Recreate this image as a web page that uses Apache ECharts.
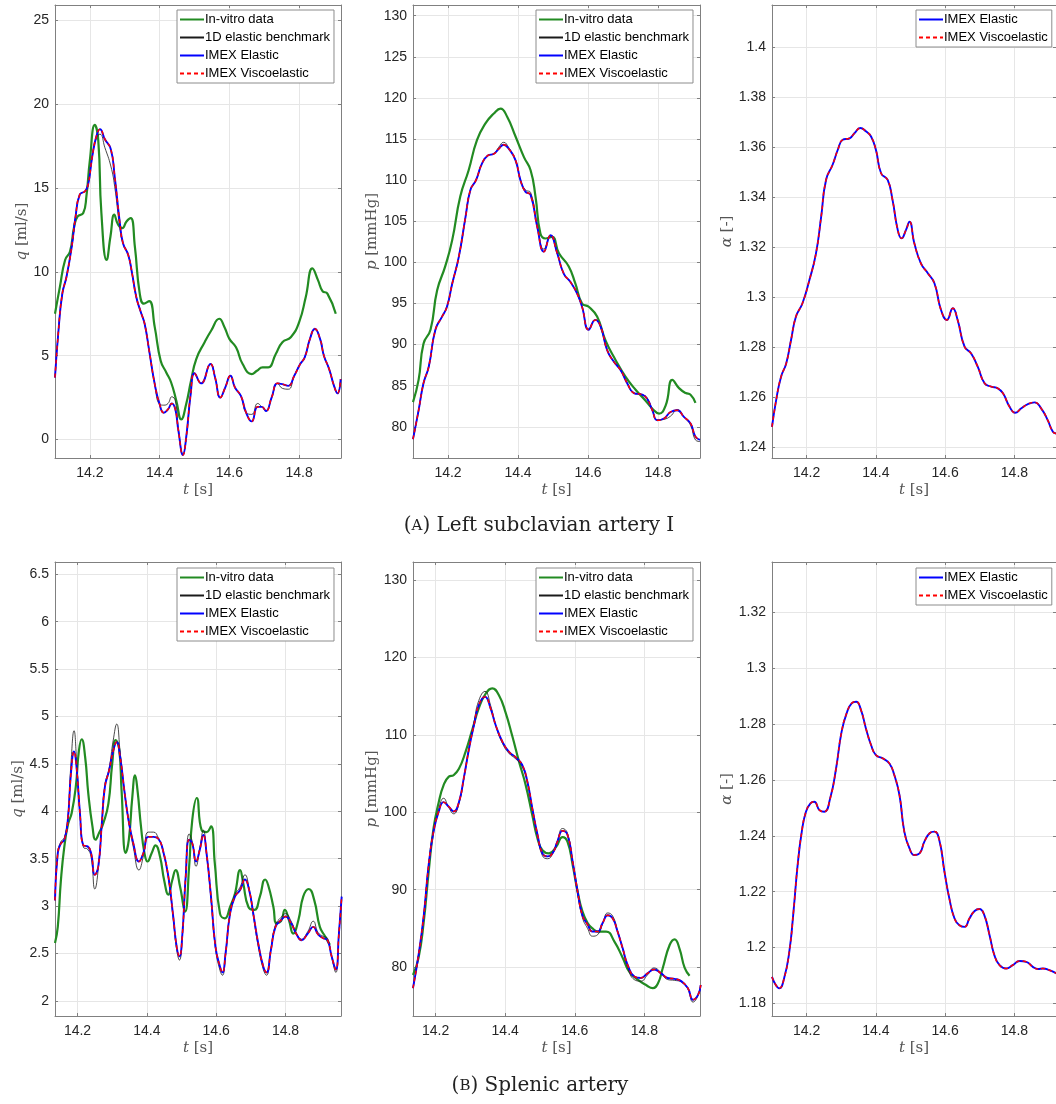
<!DOCTYPE html>
<html>
<head>
<meta charset="utf-8">
<script src="https://cdn.jsdelivr.net/npm/echarts@6/dist/echarts.min.js"></script>
<style>
html, body { margin: 0; padding: 0; background: #fff; }
#chart { width: 1056px; height: 1104px; }
</style>
</head>
<body>
<div id="chart"></div>
<script>
// (A) Left subclavian artery I
var tA1Model = [14.100,14.110,14.121,14.133,14.148,14.159,14.171,14.186,14.195,14.207,14.219,14.229,14.243,14.260,14.271,14.286,14.295,14.310,14.321,14.333,14.346,14.357,14.370,14.386,14.400,14.412,14.424,14.435,14.445,14.454,14.467,14.476,14.489,14.500,14.519,14.546,14.559,14.574,14.588,14.603,14.616,14.633,14.648,14.664,14.681,14.693,14.705,14.721,14.738,14.752,14.769,14.786,14.803,14.816,14.831,14.845,14.860,14.871,14.886,14.900,14.910,14.919];
var qA1Model = [3.7,6.5,8.7,9.7,11.5,13.3,14.6,14.8,15.2,16.9,18.1,18.5,17.9,17.3,15.7,12.9,11.7,11.0,9.9,8.5,7.6,6.9,5.3,3.3,2.1,1.6,1.8,2.15,1.8,0.5,-0.92,0.1,2.7,3.95,3.35,4.5,3.7,2.5,3.1,3.8,3.1,2.6,1.6,1.08,1.95,1.95,1.7,2.5,3.35,3.3,3.2,3.8,4.5,4.9,6.0,6.6,6.0,5.0,4.2,3.2,2.75,3.6];
var qA1Bench = [3.7,6.5,8.7,9.7,11.5,13.3,14.6,14.8,15.2,16.9,18.0,18.2,17.4,16.3,15.1,12.6,11.7,11.0,9.9,8.5,7.6,6.9,5.3,3.3,2.1,2.05,2.15,2.55,2.3,0.6,-0.85,0.1,2.7,3.95,3.35,4.5,3.7,2.5,3.1,3.8,3.1,2.6,1.6,1.5,2.15,1.95,1.7,2.5,3.35,3.05,3.0,3.8,4.5,4.9,6.0,6.55,6.0,5.0,4.2,3.2,2.75,3.6];
var tA1Vitro = [14.100,14.114,14.129,14.143,14.155,14.165,14.181,14.190,14.200,14.214,14.224,14.233,14.248,14.259,14.270,14.281,14.293,14.305,14.317,14.329,14.343,14.355,14.370,14.386,14.403,14.419,14.433,14.448,14.462,14.476,14.490,14.505,14.529,14.548,14.571,14.586,14.600,14.619,14.638,14.664,14.679,14.695,14.711,14.733,14.752,14.776,14.800,14.819,14.838,14.854,14.867,14.881,14.905];
var qA1Vitro = [7.5,9.1,10.7,11.2,12.7,13.3,13.5,14.5,16.65,18.75,17.85,13.5,10.7,12.1,13.4,12.8,12.6,13.0,13.2,11.5,8.7,8.1,8.25,6.7,4.7,4.0,3.4,2.3,1.2,2.1,3.5,4.8,5.8,6.5,7.2,6.7,6.0,5.5,4.5,3.9,4.1,4.3,4.3,5.1,5.8,6.1,7.0,8.5,10.2,9.5,8.85,8.7,7.5];

var tA2Model = [14.100,14.116,14.130,14.145,14.164,14.183,14.197,14.212,14.231,14.250,14.264,14.280,14.297,14.314,14.331,14.345,14.359,14.374,14.393,14.407,14.421,14.436,14.455,14.474,14.493,14.512,14.531,14.550,14.569,14.583,14.602,14.621,14.636,14.655,14.674,14.693,14.712,14.731,14.755,14.769,14.784,14.798,14.817,14.836,14.855,14.874,14.893,14.907,14.920];
var pA2Model = [78.5,82.0,85.3,87.3,91.8,93.4,94.6,97.4,100.7,105.5,108.8,110.0,112.0,113.0,113.2,113.8,114.3,113.8,112.4,110.0,108.6,108.2,104.3,101.3,103.3,101.1,98.6,97.6,96.2,94.6,91.8,93.0,92.2,89.3,87.9,86.9,85.3,84.1,83.9,83.4,82.0,80.8,81.0,81.8,82.0,81.2,80.4,78.8,78.4];
var pA2Bench = [78.5,82.0,85.3,87.3,91.8,93.4,94.6,97.4,100.7,105.5,108.8,110.0,112.0,113.0,113.2,114.0,114.6,113.9,112.4,110.0,108.8,108.5,104.5,101.6,103.2,101.1,98.6,97.6,96.2,94.6,91.9,93.0,92.2,89.3,87.9,86.9,85.3,84.1,83.9,83.5,82.0,80.8,80.9,81.3,82.1,81.2,80.2,78.4,78.2];
var tA2Vitro = [14.100,14.116,14.130,14.150,14.169,14.192,14.212,14.235,14.259,14.283,14.307,14.331,14.350,14.369,14.393,14.417,14.436,14.450,14.464,14.478,14.497,14.517,14.545,14.564,14.583,14.602,14.626,14.650,14.679,14.707,14.736,14.764,14.784,14.803,14.822,14.841,14.860,14.879,14.893,14.907];
var pA2Vitro = [83.0,85.7,90.1,91.8,96.6,99.5,102.7,108.0,111.2,114.9,116.9,118.1,118.7,117.7,115.3,112.8,111.2,108.0,103.5,102.9,103.1,101.1,99.5,97.4,95.0,94.6,93.4,90.5,88.1,86.1,84.5,83.2,82.2,81.6,82.6,85.7,84.7,84.1,83.9,82.9];

var tA3 = [14.100,14.112,14.126,14.141,14.155,14.169,14.188,14.208,14.227,14.242,14.256,14.275,14.290,14.304,14.324,14.338,14.355,14.372,14.386,14.400,14.415,14.434,14.448,14.463,14.474,14.487,14.497,14.511,14.530,14.550,14.569,14.588,14.605,14.622,14.636,14.656,14.675,14.694,14.714,14.733,14.752,14.767,14.786,14.802,14.820,14.839,14.858,14.877,14.896,14.911,14.921];
var aA3 = [1.248,1.2587,1.268,1.2734,1.2828,1.2921,1.2975,1.3068,1.3175,1.3322,1.3469,1.353,1.359,1.363,1.3636,1.3656,1.3677,1.3663,1.3643,1.359,1.3496,1.3469,1.3389,1.3269,1.3235,1.3269,1.3302,1.3215,1.3135,1.3095,1.3055,1.2948,1.2908,1.2955,1.2908,1.2801,1.2774,1.2721,1.2654,1.2641,1.2634,1.2614,1.256,1.2536,1.2554,1.2571,1.2578,1.2554,1.2507,1.246,1.2453];

// (B) Splenic artery
var tB1Model = [14.135,14.143,14.152,14.162,14.172,14.181,14.190,14.197,14.207,14.217,14.229,14.239,14.250,14.260,14.270,14.279,14.291,14.303,14.313,14.323,14.335,14.347,14.361,14.377,14.390,14.404,14.419,14.433,14.445,14.462,14.476,14.486,14.494,14.502,14.512,14.522,14.531,14.542,14.553,14.563,14.572,14.585,14.598,14.611,14.618,14.627,14.640,14.654,14.669,14.683,14.695,14.707,14.721,14.736,14.745,14.758,14.771,14.787,14.800,14.816,14.832,14.846,14.864,14.880,14.894,14.909,14.921,14.933,14.945,14.954,14.962];
var qB1Model = [3.06,3.56,3.66,3.70,3.91,4.40,4.63,4.47,3.98,3.64,3.63,3.56,3.33,3.42,3.87,4.26,4.43,4.64,4.73,4.57,4.22,3.91,3.66,3.47,3.56,3.73,3.73,3.71,3.61,3.31,2.89,2.57,2.47,2.68,3.31,3.70,3.66,3.47,3.60,3.75,3.56,3.10,2.57,2.36,2.30,2.50,2.92,3.10,3.17,3.28,3.17,2.92,2.61,2.36,2.30,2.54,2.78,2.85,2.89,2.82,2.70,2.64,2.71,2.78,2.70,2.66,2.64,2.47,2.33,2.71,3.10];
var qB1Bench = [3.06,3.56,3.68,3.72,3.93,4.50,4.85,4.55,3.98,3.62,3.60,3.52,3.18,3.40,3.87,4.28,4.45,4.75,4.92,4.62,4.22,3.90,3.62,3.38,3.53,3.78,3.78,3.72,3.60,3.30,2.87,2.54,2.43,2.66,3.32,3.76,3.68,3.42,3.62,3.80,3.56,3.08,2.55,2.32,2.27,2.48,2.93,3.12,3.20,3.33,3.18,2.90,2.58,2.33,2.27,2.55,2.80,2.88,2.92,2.84,2.71,2.65,2.73,2.84,2.72,2.68,2.66,2.46,2.30,2.72,3.10];
var tB1Vitro = [14.135,14.143,14.152,14.162,14.173,14.183,14.195,14.204,14.212,14.222,14.231,14.243,14.252,14.262,14.274,14.289,14.300,14.310,14.320,14.327,14.339,14.348,14.358,14.366,14.373,14.383,14.393,14.402,14.414,14.425,14.438,14.450,14.462,14.473,14.483,14.496,14.510,14.522,14.531,14.544,14.558,14.572,14.585,14.596,14.611,14.625,14.640,14.654,14.669,14.678,14.693,14.710,14.726,14.741,14.750,14.765,14.774,14.787,14.798,14.810,14.822,14.837,14.851,14.867,14.883,14.899,14.914,14.928];
var qB1Vitro = [2.61,2.78,3.27,3.63,3.87,3.98,4.26,4.64,4.76,4.57,4.19,3.84,3.70,3.77,3.87,4.08,4.50,4.75,4.66,4.22,3.56,3.70,4.15,4.38,4.22,3.84,3.56,3.47,3.56,3.64,3.52,3.27,3.12,3.27,3.38,3.20,2.94,3.42,3.91,4.14,3.80,3.78,3.84,3.45,2.92,2.87,2.99,3.13,3.38,3.24,2.99,2.96,3.10,3.28,3.22,2.99,2.82,2.84,2.96,2.85,2.71,2.85,3.10,3.18,3.06,2.78,2.68,2.59];

var tB2Model = [14.135,14.151,14.166,14.180,14.194,14.209,14.223,14.238,14.252,14.267,14.281,14.296,14.310,14.324,14.342,14.358,14.373,14.392,14.411,14.430,14.449,14.464,14.478,14.493,14.507,14.522,14.536,14.550,14.565,14.579,14.594,14.608,14.622,14.637,14.651,14.666,14.680,14.695,14.709,14.723,14.738,14.752,14.771,14.790,14.809,14.828,14.848,14.867,14.887,14.906,14.925,14.940,14.954,14.962];
var pB2Model = [77.3,81.6,86.7,93.2,97.5,100.1,101.3,100.7,100.1,101.3,104.4,108.2,111.2,113.8,114.9,113.4,111.2,109.1,107.8,107.1,106.1,103.9,100.5,97.1,94.7,94.3,94.7,96.2,97.6,97.1,93.6,89.8,86.7,85.5,84.6,84.6,85.7,86.7,86.3,84.6,82.4,80.3,78.8,78.6,79.2,79.7,79.2,78.6,78.5,78.2,77.3,75.8,76.4,77.7];
var pB2Bench = [77.3,81.6,86.7,93.2,97.6,100.4,101.8,100.6,99.8,101.1,104.3,108.3,111.5,114.4,115.6,113.8,111.2,108.9,107.6,106.9,105.9,103.8,100.5,97.0,94.4,94.0,94.6,96.3,97.9,97.3,93.6,89.6,86.4,85.0,84.0,84.2,85.6,87.0,86.6,84.7,82.3,80.0,78.4,78.2,79.0,79.9,79.3,78.4,78.3,78.1,77.2,75.5,76.3,77.7];
var tB2Vitro = [14.135,14.151,14.166,14.180,14.194,14.209,14.223,14.238,14.252,14.267,14.286,14.305,14.324,14.344,14.363,14.382,14.401,14.420,14.440,14.459,14.478,14.493,14.507,14.526,14.546,14.565,14.579,14.594,14.608,14.622,14.637,14.651,14.666,14.690,14.714,14.738,14.757,14.781,14.805,14.824,14.839,14.853,14.873,14.887,14.901,14.916,14.930];
var pB2Vitro = [79.0,81.2,85.9,92.3,97.9,101.3,103.5,104.6,104.8,105.6,107.8,110.6,113.4,115.3,116.0,115.1,112.9,109.9,106.5,103.5,99.6,96.6,95.1,94.7,95.5,96.8,96.2,93.2,89.8,87.2,85.7,85.0,84.6,84.6,83.3,81.2,79.4,78.4,77.7,77.3,77.9,79.9,82.9,83.6,82.4,79.9,78.9];

var tB3 = [14.100,14.111,14.121,14.135,14.150,14.162,14.174,14.186,14.198,14.211,14.222,14.237,14.251,14.268,14.285,14.301,14.317,14.330,14.343,14.357,14.371,14.386,14.400,14.420,14.439,14.453,14.468,14.482,14.497,14.511,14.526,14.540,14.555,14.569,14.583,14.598,14.612,14.627,14.641,14.656,14.670,14.685,14.699,14.713,14.728,14.742,14.757,14.776,14.795,14.815,14.834,14.853,14.868,14.882,14.901,14.922];
var aB3 = [1.1895,1.1866,1.1854,1.189,1.1985,1.2128,1.2295,1.2415,1.2486,1.2516,1.2522,1.2492,1.2486,1.2534,1.2641,1.2773,1.2844,1.2874,1.288,1.285,1.2785,1.2725,1.2689,1.2677,1.2659,1.2618,1.2546,1.2415,1.2355,1.2331,1.2337,1.2379,1.2409,1.2415,1.2385,1.2271,1.2176,1.2104,1.208,1.2074,1.2104,1.2131,1.2138,1.2116,1.2045,1.1973,1.1937,1.1925,1.1937,1.1952,1.1949,1.1931,1.1923,1.1925,1.1919,1.1907];

var names = ['In-vitro data', '1D elastic benchmark', 'IMEX Elastic', 'IMEX Viscoelastic'];

function pairs(t, v) {
  return t.map(function (x, i) { return [x, v[i]]; });
}

var panels = [
  { box: [55, 5, 286, 453], xr: [14.1, 14.92], yr: [-1.1, 25.9], ysplit: 5, yname: '{i|q} [ml/s]', ygap: 22, leg: [177, 10],
    vitro: pairs(tA1Vitro, qA1Vitro), bench: pairs(tA1Model, qA1Bench), model: pairs(tA1Model, qA1Model) },
  { box: [413, 5, 287, 453], xr: [14.1, 14.92], yr: [76.2, 131.3], ysplit: 10, yname: '{i|p} [mmHg]', ygap: 29, leg: [536, 10],
    vitro: pairs(tA2Vitro, pA2Vitro), bench: pairs(tA2Model, pA2Bench), model: pairs(tA2Model, pA2Model) },
  { box: [772, 5, 284, 453], xr: [14.1, 14.92], yr: [1.2355, 1.417], ysplit: 9, yname: '{i|α} [-]', ygap: 36, leg: [916, 10],
    model: pairs(tA3, aA3) },
  { box: [55, 562, 286, 454], xr: [14.135, 14.96], yr: [1.84, 6.63], ysplit: 9, yname: '{i|q} [ml/s]', ygap: 22, leg: [177, 568],
    vitro: pairs(tB1Vitro, qB1Vitro), bench: pairs(tB1Model, qB1Bench), model: pairs(tB1Model, qB1Model) },
  { box: [413, 562, 287, 454], xr: [14.135, 14.96], yr: [73.7, 132.3], ysplit: 6, yname: '{i|p} [mmHg]', ygap: 29, leg: [536, 568],
    vitro: pairs(tB2Vitro, pB2Vitro), bench: pairs(tB2Model, pB2Bench), model: pairs(tB2Model, pB2Model) },
  { box: [772, 562, 284, 454], xr: [14.1, 14.92], yr: [1.1755, 1.338], ysplit: 8, yname: '{i|α} [-]', ygap: 36, leg: [916, 568],
    model: pairs(tB3, aB3) }
];

var axisCol = '#808080';
var serif = '"DejaVu Serif", serif';
var nameStyle = {
  color: '#555', fontSize: 15, fontFamily: serif,
  rich: { i: { fontStyle: 'italic', color: '#555', fontSize: 15, fontFamily: serif } }
};

var grids = [], xAxes = [], yAxes = [], series = [], legends = [];

panels.forEach(function (p, k) {
  grids.push({ left: p.box[0], top: p.box[1], width: p.box[2], height: p.box[3], show: false });

  var baseX = {
    type: 'value', gridIndex: k, min: p.xr[0], max: p.xr[1], splitNumber: 4,
    axisLine: { show: true, onZero: false, lineStyle: { color: axisCol, width: 1 } },
    axisTick: { show: true, inside: true, length: 3, lineStyle: { color: axisCol } }
  };
  xAxes.push(Object.assign({}, baseX, {
    position: 'bottom',
    axisLabel: { color: '#262626', fontSize: 14, fontFamily: 'Liberation Sans', margin: 8, showMinLabel: false, showMaxLabel: false },
    splitLine: { show: true, lineStyle: { color: '#e6e6e6', width: 1 } },
    name: '{i|t} [s]', nameLocation: 'middle', nameGap: 25, nameTextStyle: nameStyle
  }));
  xAxes.push(Object.assign({}, baseX, { position: 'top', axisLabel: { show: false }, splitLine: { show: false } }));

  var baseY = {
    type: 'value', gridIndex: k, min: p.yr[0], max: p.yr[1], splitNumber: p.ysplit,
    axisLine: { show: true, onZero: false, lineStyle: { color: axisCol, width: 1 } },
    axisTick: { show: true, inside: true, length: 3, lineStyle: { color: axisCol } }
  };
  yAxes.push(Object.assign({}, baseY, {
    position: 'left',
    axisLabel: { color: '#262626', fontSize: 14, fontFamily: 'Liberation Sans', margin: 6, showMinLabel: false, showMaxLabel: false },
    splitLine: { show: true, lineStyle: { color: '#e6e6e6', width: 1 } },
    name: p.yname, nameLocation: 'middle', nameGap: p.ygap, nameTextStyle: nameStyle
  }));
  yAxes.push(Object.assign({}, baseY, { position: 'right', axisLabel: { show: false }, splitLine: { show: false } }));

  var common = { type: 'line', xAxisIndex: 2 * k, yAxisIndex: 2 * k, symbol: 'none', smooth: 0.5, silent: true };
  var shown = [];
  if (p.vitro) {
    series.push(Object.assign({}, common, { name: names[0], data: p.vitro, lineStyle: { color: '#228b22', width: 2.2 }, itemStyle: { color: '#228b22' } }));
    shown.push(names[0]);
  }
  if (p.bench) {
    series.push(Object.assign({}, common, { name: names[1], data: p.bench, lineStyle: { color: '#1a1a1a', width: 0.8 }, itemStyle: { color: '#1a1a1a' } }));
    shown.push(names[1]);
  }
  series.push(Object.assign({}, common, { name: names[2], data: p.model, lineStyle: { color: '#0000ff', width: 1.9 }, itemStyle: { color: '#0000ff' } }));
  series.push(Object.assign({}, common, { name: names[3], data: p.model, lineStyle: { color: '#ff0000', width: 1.5, type: [4, 3] }, itemStyle: { color: '#ff0000' } }));
  shown.push(names[2], names[3]);

  legends.push({
    left: p.leg[0], top: p.leg[1], orient: 'vertical', data: shown, selectedMode: false,
    itemWidth: 24, itemHeight: 13, itemGap: 5, padding: [3, 4, 3, 2],
    itemStyle: { opacity: 0 },
    backgroundColor: '#fff', borderColor: '#8c8c8c', borderWidth: 1,
    textStyle: { color: '#000', fontSize: 13, fontFamily: 'Liberation Sans', padding: [0, 0, 0, -4] }
  });
});

var captionRich = { sc: { fontSize: 15, fontFamily: serif, fill: '#222' } };
var chart = echarts.init(document.getElementById('chart'), null, { renderer: 'canvas' });
chart.setOption({
  animation: false,
  backgroundColor: '#fff',
  grid: grids,
  xAxis: xAxes,
  yAxis: yAxes,
  legend: legends,
  series: series,
  graphic: [
    { type: 'text', x: 539, y: 516,
      style: { text: '({sc|A}) Left subclavian artery I', textAlign: 'center', fill: '#222', fontSize: 20, fontFamily: serif, rich: captionRich } },
    { type: 'text', x: 540, y: 1076,
      style: { text: '({sc|B}) Splenic artery', textAlign: 'center', fill: '#222', fontSize: 20, fontFamily: serif, rich: captionRich } }
  ]
});
</script>
</body>
</html>
